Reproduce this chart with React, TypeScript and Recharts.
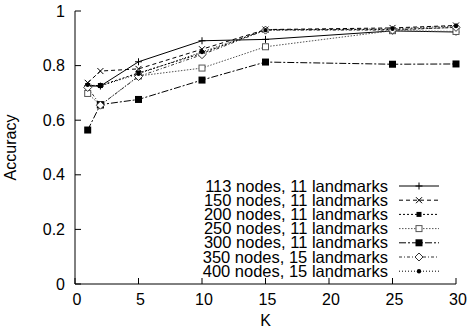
import React from 'react'
import { LineChart, Line, XAxis, YAxis, Label } from 'recharts'

const kValues = [1, 2, 5, 10, 15, 25, 30]
const xTicks = [0, 5, 10, 15, 20, 25, 30]
const yTicks = [0, 0.2, 0.4, 0.6, 0.8, 1]

const acc113 = [0.725, 0.725, 0.814, 0.891, 0.896, 0.927, 0.923]
const acc150 = [0.737, 0.78, 0.788, 0.86, 0.932, 0.938, 0.947]
const acc200 = [0.727, 0.727, 0.773, 0.845, 0.932, 0.932, 0.94]
const acc250 = [0.698, 0.655, 0.762, 0.791, 0.869, 0.928, 0.925]
const acc300 = [0.564, 0.657, 0.676, 0.747, 0.813, 0.805, 0.806]
const acc350 = [0.72, 0.655, 0.76, 0.84, 0.93, 0.93, 0.94]
const acc400 = [0.73, 0.725, 0.77, 0.85, 0.93, 0.935, 0.945]

const seriesNames = [
  '113 nodes, 11 landmarks',
  '150 nodes, 11 landmarks',
  '200 nodes, 11 landmarks',
  '250 nodes, 11 landmarks',
  '300 nodes, 11 landmarks',
  '350 nodes, 15 landmarks',
  '400 nodes, 15 landmarks',
]
const seriesValues = [acc113, acc150, acc200, acc250, acc300, acc350, acc400]

const FONT = '"Liberation Sans", Arial, Helvetica, sans-serif'

type MarkerKind = 'plus' | 'cross' | 'smallSquare' | 'openSquare' | 'square' | 'openDiamond' | 'circle'

const styles: { marker: MarkerKind; dash?: string; color: string }[] = [
  { marker: 'plus', color: '#000' },
  { marker: 'cross', dash: '4 3', color: '#000' },
  { marker: 'smallSquare', dash: '2 2', color: '#000' },
  { marker: 'openSquare', dash: '1.5 1.5', color: '#555' },
  { marker: 'square', dash: '7 2 2 2', color: '#000' },
  { marker: 'openDiamond', dash: '3 2 1 2', color: '#333' },
  { marker: 'circle', dash: '1 2', color: '#000' },
]

const data = kValues.map((k, i) => {
  const row: Record<string, number> = { k }
  seriesValues.forEach((vals, s) => {
    row[`s${s}`] = vals[i]
  })
  return row
})

function Marker({ kind, cx, cy, color }: { kind: MarkerKind; cx: number; cy: number; color: string }) {
  const r = 3.5
  switch (kind) {
    case 'plus':
      return (
        <g stroke={color} strokeWidth={1}>
          <line x1={cx - r} y1={cy} x2={cx + r} y2={cy} />
          <line x1={cx} y1={cy - r} x2={cx} y2={cy + r} />
        </g>
      )
    case 'cross':
      return (
        <g stroke={color} strokeWidth={1}>
          <line x1={cx - 3} y1={cy - 3} x2={cx + 3} y2={cy + 3} />
          <line x1={cx - 3} y1={cy + 3} x2={cx + 3} y2={cy - 3} />
        </g>
      )
    case 'smallSquare':
      return <rect x={cx - 2.5} y={cy - 2.5} width={5} height={5} fill={color} />
    case 'openSquare':
      return <rect x={cx - 3} y={cy - 3} width={6} height={6} fill="#fff" stroke={color} strokeWidth={1} />
    case 'square':
      return <rect x={cx - 3.5} y={cy - 3.5} width={7} height={7} fill={color} />
    case 'openDiamond':
      return (
        <polygon
          points={`${cx},${cy - 4} ${cx + 4},${cy} ${cx},${cy + 4} ${cx - 4},${cy}`}
          fill="#fff"
          stroke={color}
          strokeWidth={1}
        />
      )
    default:
      return <circle cx={cx} cy={cy} r={2.2} fill={color} />
  }
}

const TICK_LEN = 6
const X_MARGIN = 8
const Y_MARGIN = 10

const BottomTick = (props: any) => {
  const { x, y, payload } = props
  const axisY = y - X_MARGIN
  return (
    <g>
      <line x1={x} y1={axisY} x2={x} y2={axisY - TICK_LEN} stroke="#000" />
      <text x={x + 2} y={y + 13} textAnchor="middle" fontFamily={FONT} fontSize={16} fill="#000">
        {payload.value}
      </text>
    </g>
  )
}

const TopTick = (props: any) => {
  const { x, y } = props
  return <line x1={x} y1={y} x2={x} y2={y + TICK_LEN} stroke="#000" />
}

const fmtY = (v: number) => (v === 0 || v === 1 ? String(v) : v.toFixed(1))

const LeftTick = (props: any) => {
  const { x, y, payload } = props
  const axisX = x + Y_MARGIN
  return (
    <g>
      <line x1={axisX} y1={y} x2={axisX + TICK_LEN} y2={y} stroke="#000" />
      <text x={x} y={y + 5.5} textAnchor="end" fontFamily={FONT} fontSize={16} fill="#000">
        {fmtY(payload.value)}
      </text>
    </g>
  )
}

const RightTick = (props: any) => {
  const { x, y } = props
  return <line x1={x} y1={y} x2={x - TICK_LEN} y2={y} stroke="#000" />
}

function ChartLegend() {
  const rowH = 14.2
  return (
    <svg
      width={260}
      height={110}
      style={{ position: 'absolute', left: 190, top: 174, pointerEvents: 'none' }}
    >
      {seriesNames.map((name, i) => {
        const cy = 12 + i * rowH
        const st = styles[i]
        return (
          <g key={name}>
            <text x={198} y={cy + 5.5} textAnchor="end" fontFamily={FONT} fontSize={16.5} fill="#000">
              {name}
            </text>
            <line x1={209} y1={cy} x2={249} y2={cy} stroke={st.color} strokeDasharray={st.dash} />
            <Marker kind={st.marker} cx={229} cy={cy} color={st.color} />
          </g>
        )
      })}
    </svg>
  )
}

export default function App() {
  return (
    <div style={{ position: 'fixed', left: 0, top: 0, width: 468, height: 330, background: '#fff' }}>
      <LineChart width={468} height={330} data={data} margin={{ top: 11, right: 12, left: 0, bottom: 0 }}>
        <XAxis
          dataKey="k"
          type="number"
          domain={[0, 30]}
          ticks={xTicks}
          height={46}
          stroke="#000"
          tickLine={false}
          tickSize={0}
          tickMargin={X_MARGIN}
          tick={BottomTick}
          interval={0}
        >
          <Label
            content={(p: any) => {
              const vb = p.viewBox
              return (
                <text x={vb.x + vb.width / 2} y={vb.y + 42} textAnchor="middle" fontFamily={FONT} fontSize={16} fill="#000">
                  K
                </text>
              )
            }}
          />
        </XAxis>
        <XAxis
          xAxisId="top"
          orientation="top"
          dataKey="k"
          type="number"
          domain={[0, 30]}
          ticks={xTicks}
          height={0}
          stroke="#000"
          tickLine={false}
          tickSize={0}
          tickMargin={0}
          tick={TopTick}
          interval={0}
        />
        <YAxis
          type="number"
          domain={[0, 1]}
          ticks={yTicks}
          width={75}
          stroke="#000"
          tickLine={false}
          tickSize={0}
          tickMargin={Y_MARGIN}
          tick={LeftTick}
          interval={0}
        >
          <Label
            content={(p: any) => {
              const vb = p.viewBox
              const cx = vb.x + 16
              const cy = vb.y + vb.height / 2
              return (
                <text
                  x={cx}
                  y={cy}
                  transform={`rotate(-90 ${cx} ${cy})`}
                  textAnchor="middle"
                  fontFamily={FONT}
                  fontSize={16}
                  fill="#000"
                >
                  Accuracy
                </text>
              )
            }}
          />
        </YAxis>
        <YAxis
          yAxisId="right"
          orientation="right"
          type="number"
          domain={[0, 1]}
          ticks={yTicks}
          width={0}
          stroke="#000"
          tickLine={false}
          tickSize={0}
          tickMargin={0}
          tick={RightTick}
          interval={0}
        />
        {seriesValues.map((_, s) => {
          const st = styles[s]
          return (
            <Line
              key={s}
              dataKey={`s${s}`}
              name={seriesNames[s]}
              type="linear"
              stroke={st.color}
              strokeWidth={1}
              strokeDasharray={st.dash}
              isAnimationActive={false}
              dot={(p: any) => (
                <Marker key={`d${s}-${p.index}`} kind={st.marker} cx={p.cx} cy={p.cy} color={st.color} />
              )}
              activeDot={false}
            />
          )
        })}
      </LineChart>
      <ChartLegend />
    </div>
  )
}
